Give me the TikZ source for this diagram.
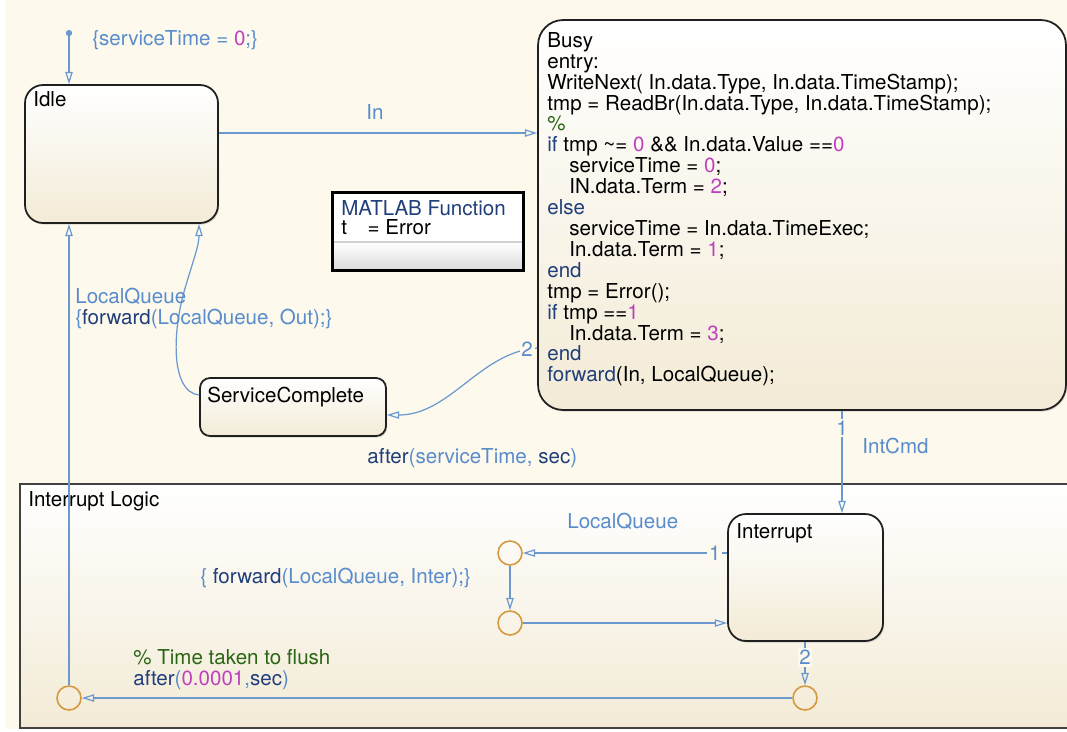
\documentclass[tikz,border=0pt]{standalone}
\usepackage{fontspec}
\setmainfont{TeX Gyre Heros}
\usepackage{tikz}
\usetikzlibrary{arrows.meta,shapes,positioning,shadows}
\usepackage{xcolor}
\definecolor{sfbg}{RGB}{253,249,237}
\definecolor{sfbot}{RGB}{243,235,214}
\definecolor{sfline}{RGB}{106,153,208}
\definecolor{sflabel}{RGB}{88,140,204}
\definecolor{sfnavy}{RGB}{32,62,122}
\definecolor{sfmag}{RGB}{190,64,190}
\definecolor{sfgreen}{RGB}{42,102,22}
\definecolor{sforange}{RGB}{214,152,62}
\definecolor{sfedge}{RGB}{32,32,32}
\tikzstyle{state} = [draw=sfedge, line width=1pt, rounded corners=0.36cm, top color=white, bottom color=sfbot, drop shadow={opacity=0.3,shadow xshift=0.7pt,shadow yshift=-0.9pt}, inner sep=0pt]
\tikzstyle{junction} = [circle, draw=sforange, line width=0.9pt, minimum size=0.48cm, inner sep=0pt]
\tikzstyle{trans} = [line width=0.7pt, color=sfline, -{Triangle[open,length=7pt,width=4.2pt]}]
\tikzstyle{txt} = [anchor=base west, inner sep=0pt]
\tikzstyle{trlabel} = [txt, text=sflabel]
\tikzstyle{prio} = [fill=sfbg, text=sflabel, inner sep=1pt]
\newcommand{\kwd}[1]{\textcolor{sfnavy}{#1}}
\newcommand{\numc}[1]{\textcolor{sfmag}{#1}}
\newcommand{\indnt}{\hspace*{12.5pt}}

\begin{document}
\begin{tikzpicture}[x=0.02cm, y=-0.02cm, font=\fontsize{11.7}{11.9}\selectfont]
\useasboundingbox (0,0) rectangle (1067,731);
\clip (0,0) rectangle (1067,731);
\fill[sfbg] (5,0) rectangle (1067,729);

% Interrupt Logic container
\node[draw=sfedge!85, line width=1.2pt, top color=white, bottom color=sfbot, minimum width=21.2cm, minimum height=4.88cm, inner sep=0pt] (logic) at (550,606) {};
\node[txt] (logicname) at (28,506) {Interrupt Logic};

% States
\node[state, minimum width=3.86cm, minimum height=2.76cm] (idle) at (121.5,154) {};
\node[state, rounded corners=0.5cm, minimum width=10.56cm, minimum height=7.8cm] (busy) at (802,215) {};
\node[state, rounded corners=0.2cm, minimum width=3.72cm, minimum height=1.16cm] (sc) at (293,407) {};
\node[state, minimum width=3.1cm, minimum height=2.54cm] (intr) at (805.5,577.5) {};

\node[txt] (idlename) at (33,106) {Idle};
\node[txt] (scname) at (207,402) {ServiceComplete};
\node[txt] (intrname) at (736,538) {Interrupt};
\node[anchor=north west, align=left, inner sep=0pt] (busytext) at (547,32) {Busy\\
  entry:\\
  WriteNext( In.data.Type, In.data.TimeStamp);\\
  tmp = ReadBr(In.data.Type, In.data.TimeStamp);\\
  \textcolor{sfgreen}{\%}\\
  \kwd{if} tmp \textasciitilde= \numc{0} \&\& In.data.Value ==\numc{0}\\
  \indnt serviceTime = \numc{0};\\
  \indnt IN.data.Term = \numc{2};\\
  \kwd{else}\\
  \indnt serviceTime = In.data.TimeExec;\\
  \indnt In.data.Term = \numc{1};\\
  \kwd{end}\\
  tmp = Error();\\
  \kwd{if} tmp ==\numc{1}\\
  \indnt In.data.Term = \numc{3};\\
  \kwd{end}\\
  \kwd{forward}(In, LocalQueue);};

% MATLAB function block
\node[fill=white, minimum width=3.8cm, minimum height=1.54cm, inner sep=0pt, drop shadow={opacity=0.3,shadow xshift=0.8pt,shadow yshift=-0.8pt}] (mfun) at (428,231.5) {};
\shade[top color=white, bottom color=black!14] (mfun.west |- 0,242) rectangle (mfun.south east);
\draw[black!18, line width=1pt] (mfun.west |- 0,242) -- (mfun.east |- 0,242);
\draw[black, line width=1.7pt] (mfun.north west) rectangle (mfun.south east);
\node[txt, text=sfnavy] (mtitle) at (341,215) {MATLAB Function};
\node[txt] (mbody) at (341,234) {t\hspace{1em}= Error};

% Junctions
\node[junction] (j1) at (510,553) {};
\node[junction] (j2) at (510,623) {};
\node[junction] (j3) at (805,698) {};
\node[junction] (j4) at (69,698) {};

% Default transition
\coordinate (init) at (69,33);
\fill[sfline] (init) circle[radius=1.8pt];
\draw[trans] (init) -- (init |- idle.north);

% Transitions
\draw[trans] (idle.east |- 0,133) -- (busy.west |- 0,133);
\draw[trans] (busy.west |- 0,348) .. controls (480,352) and (450,415) .. (sc.east |- 0,415) node[pos=0.06, prio] {2};
\draw[trans] (sc.west |- 0,395) .. controls (170,392) and (172,330) .. (186,285) .. controls (194,258) and (199,245) .. (idle.south -| 199,0);
\draw[trans] (j4.north) -- (j4.north |- idle.south);
\draw[trans] (842,0 |- busy.south) -- (842,0 |- intr.north) node[pos=0.17, prio] {1};
\draw[trans] (intr.west |- j1) -- (j1.east) node[pos=0.06, prio] {1};
\draw[trans] (j1.south) -- (j2.north);
\draw[trans] (j2.east) -- (intr.west |- j2);
\draw[trans] (intr.south -| j3) -- (j3.north) node[pos=0.36, prio] {2};
\draw[trans] (j3.west) -- (j4.east);

% Transition labels
\node[trlabel] (initlbl) at (92,45) {\{serviceTime = \numc{0};\}};
\node[trlabel] (inlbl) at (366,119) {In};
\node[trlabel, anchor=north west, align=left] (outlbl) at (75,288) {LocalQueue\\ \{\kwd{forward}(LocalQueue, Out);\}};
\node[trlabel] (afterlbl) at (367,463) {\kwd{after}(serviceTime, \kwd{sec})};
\node[trlabel] (intcmdlbl) at (862,453) {IntCmd};
\node[trlabel] (lqlbl) at (567,528) {LocalQueue};
\node[trlabel] (fwdlbl) at (200,583) {\{ \kwd{forward}(LocalQueue, Inter);\}};
\node[trlabel, anchor=north west, align=left] (flushlbl) at (133,649) {\textcolor{sfgreen}{\% Time taken to flush}\\ \kwd{after}(\numc{0.0001},\kwd{sec})};
\end{tikzpicture}
\end{document}
